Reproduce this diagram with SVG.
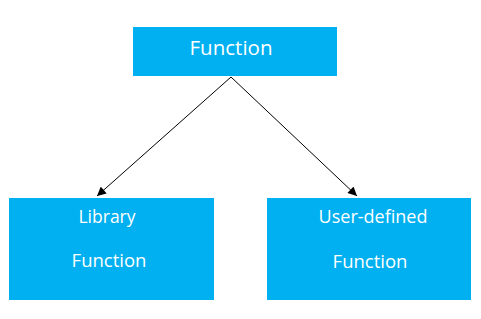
<svg xmlns="http://www.w3.org/2000/svg" width="481" height="319" viewBox="0 0 481 319">
<style>
.box{fill:#00B0F0;}
.t{font-family:"Open Sans","Liberation Sans",sans-serif;fill:#fff;text-anchor:middle;}
.c{stroke:#000;stroke-width:1;fill:none;marker-end:url(#ah);}
</style>
<defs>
<marker id="ah" viewBox="0 0 10 10" refX="10" refY="5" markerWidth="10" markerHeight="9" markerUnits="userSpaceOnUse" orient="auto">
<path d="M0,0 L10,5 L0,10 z" fill="#000"/>
</marker>
</defs>
<rect width="481" height="319" fill="#fff"/>
<g id="function">
<rect class="box" x="133" y="27" width="204" height="49"/>
<text class="t" x="231" y="55" font-size="20.5">Function</text>
</g>
<g id="library">
<rect class="box" x="9" y="198" width="205" height="102"/>
<text class="t" x="107" y="223" font-size="17.5">Library</text>
<text class="t" x="109" y="267" font-size="18.5">Function</text>
</g>
<g id="user-defined">
<rect class="box" x="267" y="198" width="204" height="102"/>
<text class="t" x="373" y="223" font-size="18">User-defined</text>
<text class="t" x="370" y="268" font-size="18.5">Function</text>
</g>
<g id="connectors">
<line class="c" x1="231" y1="77" x2="97" y2="196"/>
<line class="c" x1="231" y1="77" x2="357" y2="196"/>
</g>
</svg>
